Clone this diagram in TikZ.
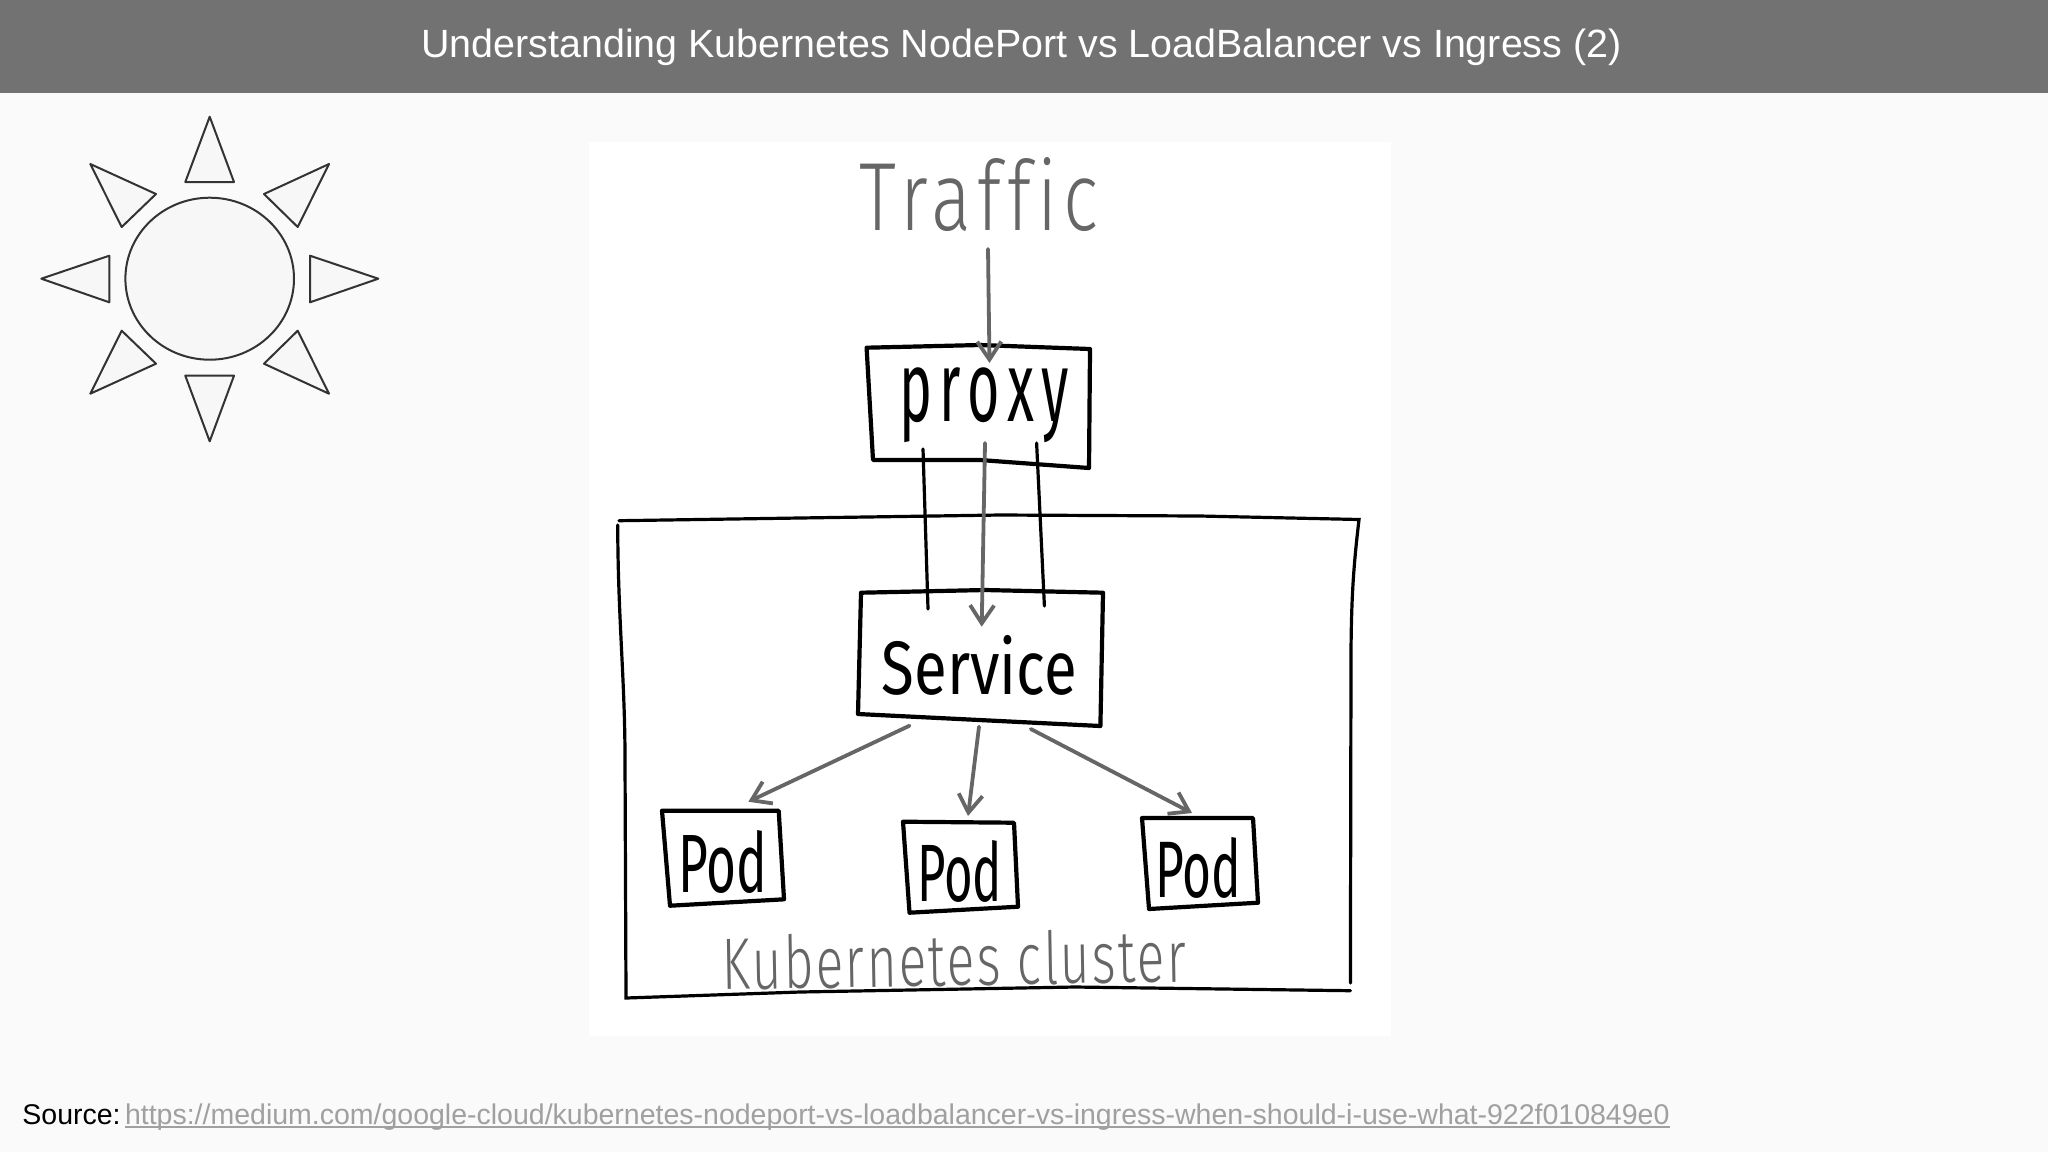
\documentclass[tikz,border=0pt]{standalone}
\usepackage{fontspec}
\setmainfont{Liberation Sans}
\newfontfamily\handfont[Ligatures=NoCommon]{Fira Sans}
\newfontfamily\handlightfont[Ligatures=NoCommon]{Fira Sans Light}
\usetikzlibrary{arrows.meta}
\definecolor{pagebg}{HTML}{FAFAFA}
\definecolor{barcol}{HTML}{727272}
\definecolor{sunfill}{HTML}{F7F7F7}
\definecolor{suncol}{HTML}{333333}
\definecolor{flowcol}{HTML}{666666}
\definecolor{linkcol}{HTML}{A0A0A0}
\newcommand{\handtext}[3]{\resizebox*{#1pt}{#2pt}{#3}}
\newcommand{\linktext}[1]{\setbox0\hbox{#1}\rlap{\rule[-2pt]{\wd0}{1.1pt}}\box0}
\tikzset{
    sunpart/.style={draw=suncol, fill=sunfill, line width=1pt, line join=round},
    handline/.style={draw=black, line width=2.1pt, line join=round, line cap=round},
    wireline/.style={draw=black, line width=1.6pt, line cap=round},
    flowline/.style={draw=flowcol, line width=1.9pt, line cap=round, -{Straight Barb[length=9pt,width=12pt,line width=1.9pt]}},
    boxlabel/.style={inner sep=0pt, outer sep=0pt, font=\handfont},
    greylabel/.style={inner sep=0pt, outer sep=0pt, font=\handlightfont, text=flowcol},
}
\begin{document}
\begin{tikzpicture}[x=0.5pt,y=-0.5pt]
    \fill[pagebg] (0,0) rectangle (2048,1152);
    \useasboundingbox (0,0) rectangle (2048,1152);
    \fill[barcol] (0,0) rectangle (2048,93);
    \node[text=white, font=\fontsize{19.7pt}{24pt}\selectfont] (title) at (1021.5,47) {Understanding Kubernetes NodePort vs LoadBalancer vs Ingress (2)};

    % sun
    \draw[sunpart] (209.7,278.7) ellipse [x radius=84.3, y radius=81];
    \foreach \a/\b/\c in {209.7/116.7/0, 209.7/441.3/1} {
        \draw[sunpart] (\a,\b) -- (185.3,{182+\c*193.7}) -- (234,{182+\c*193.7}) -- cycle;
    }
    \draw[sunpart] (41.3,278.7) -- (109.3,255.7) -- (109.3,302.3) -- cycle;
    \draw[sunpart] (378.3,278.7) -- (310,255.7) -- (310,302.3) -- cycle;
    \draw[sunpart] (90.3,164) -- (156,194) -- (121.7,227) -- cycle;
    \draw[sunpart] (329,164) -- (264,194) -- (297.7,227) -- cycle;
    \draw[sunpart] (90.3,393.7) -- (156,363.7) -- (121.7,330.7) -- cycle;
    \draw[sunpart] (329,393.7) -- (264,363.7) -- (297.7,330.7) -- cycle;

    % drawing
    \fill[white] (589,142) rectangle (1391,1036);

    \node[greylabel] (traffic) at (979,195) {\handtext{119}{37}{\addfontfeature{LetterSpace=8}Traffic}};
    \node[boxlabel] (proxy) at (984,405.5) {\handtext{85}{37.5}{\addfontfeature{LetterSpace=14}proxy}};
    \node[boxlabel] (service) at (979.5,665) {\handtext{97.5}{30}{Service}};
    \node[boxlabel] (poda) at (722.5,861.5) {\handtext{44.5}{31.5}{Pod}};
    \node[boxlabel] (podb) at (959.5,871) {\handtext{42.5}{31}{Pod}};
    \node[boxlabel] (podc) at (1198,867.5) {\handtext{43}{30.5}{Pod}};
    \node[greylabel, rotate=1] (clustername) at (954,959) {\handtext{232}{27.5}{\addfontfeature{LetterSpace=4}Kubernetes cluster}};

    % boxes
    \draw[handline] (866.6,347.7) -- (980,345) -- (1090,349) -- (1089,468) -- (980,460) -- (873,460) -- cycle;
    \draw[handline] (861,592.7) -- (985,590) -- (1103,592.7) -- (1100.4,726) -- (858,714) -- cycle;
    \draw[handline] (662,810.7) -- (778.7,810.7) -- (784,899.3) -- (670,905.7) -- cycle;
    \draw[handline] (903,821.7) -- (1014,822.7) -- (1018,906.7) -- (909.5,912.7) -- cycle;
    \draw[handline] (1142,818) -- (1253,818) -- (1258,902.7) -- (1149,909) -- cycle;

    % cluster
    \draw[wireline] (619,520.7) -- (1000,515) -- (1200,516) -- (1359,519.5) .. controls (1353,570) and (1351.5,600) .. (1351,650) -- (1350.4,983);
    \draw[wireline] (617.7,525) .. controls (618,620) and (625,680) .. (625,760) -- (626,998) -- (800,992) -- (1075,987) -- (1350.4,990.7);

    % links
    \draw[flowline] ([shift={(9,17)}]traffic.south) -- ([shift={(5.5,-5)}]proxy.north);
    \draw[wireline] ([shift={(-61,6)}]proxy.south) -- ([shift={(-51.5,-26)}]service.north);
    \draw[wireline] ([shift={(52.6,0)}]proxy.south) -- ([shift={(64.9,-29)}]service.north);
    \draw[flowline] ([shift={(1,0)}]proxy.south) -- ([shift={(2.2,-8.3)}]service.north);
    \draw[flowline] ([shift={(-70,30.7)}]service.south) -- ([shift={(25.9,-28.3)}]poda.north);
    \draw[flowline] ([shift={(-0.5,31.7)}]service.south) -- ([shift={(8.5,-24)}]podb.north);
    \draw[flowline] ([shift={(51.3,34)}]service.south) -- ([shift={(-6,-24)}]podc.north);

    \node[anchor=west, inner sep=0pt, font=\fontsize{14.25pt}{18pt}\selectfont] (source) at (22,1117) {Source:\hspace{2.2pt}\textcolor{linkcol}{\linktext{https://medium.com/google-cloud/kubernetes-nodeport-vs-loadbalancer-vs-ingress-when-should-i-use-what-922f010849e0}}};
\end{tikzpicture}
\end{document}
